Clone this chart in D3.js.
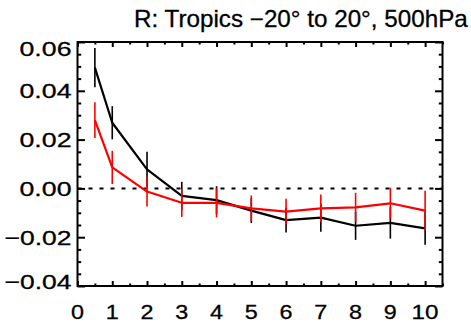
<!DOCTYPE html>
<html>
<head>
<meta charset="utf-8">
<script src="https://cdn.jsdelivr.net/npm/d3@7"></script>
<style>
  html, body { margin: 0; padding: 0; background: #fff; }
  svg { display: block; font-family: "Liberation Sans", Arial, Helvetica, sans-serif; }
  .lbl { fill: #000; stroke: #000; stroke-width: 0.3px; font-family: "Liberation Sans", Arial, sans-serif; }
</style>
</head>
<body>
<svg id="chart" width="471" height="332"></svg>
<script>
// Lead (x) values for both series
const lags = [0.5, 1, 2, 3, 4, 5, 6, 7, 8, 9, 10];

// Black series: mean and error half-width
const blackMean = [0.0495, 0.0269, 0.0078, -0.0031, -0.0048, -0.0091, -0.0130, -0.0120, -0.0153, -0.0141, -0.0164];
const blackErr  = [0.0080, 0.0068, 0.0072, 0.0058, 0.0057, 0.0051, 0.0051, 0.0058, 0.0058, 0.0065, 0.0067];

// Red series: mean and error half-width
const redMean = [0.0280, 0.0086, -0.0013, -0.0059, -0.0059, -0.0082, -0.0095, -0.0082, -0.0078, -0.0061, -0.0091];
const redErr  = [0.0073, 0.0068, 0.0061, 0.0058, 0.0060, 0.0053, 0.0053, 0.0057, 0.0060, 0.0063, 0.0081];

// Axis ticks
const xMajor = [0, 1, 2, 3, 4, 5, 6, 7, 8, 9, 10];
const yMajor = [-0.04, -0.02, 0.00, 0.02, 0.04, 0.06];

const titleText = "R: Tropics \u221220\u00b0 to 20\u00b0, 500hPa";

const svg = d3.select("#chart");
const plotL = 77.5, plotR = 442.5, plotT = 42, plotB = 286;

const x = d3.scaleLinear().domain([0, 10.5]).range([plotL, plotR]);
const y = d3.scaleLinear().domain([-0.04, 0.06]).range([plotB, plotT]);

const xMinor = d3.range(0, 10.51, 0.5).filter(v => Math.abs(v - Math.round(v)) > 1e-6);
const yMinor = d3.range(-0.04, 0.0601, 0.005).filter(v => !yMajor.some(m => Math.abs(m - v) < 1e-6));

const fmtY = v => {
  const s = Math.abs(v).toFixed(2);
  return (v < -1e-9 ? "\u2212" : "") + s;
};

// Squeeze/stretch a text node horizontally to a given width about its anchor
function fitWidth(node, width, tx, ty) {
  const w = node.getComputedTextLength() || width;
  d3.select(node).attr("transform", `translate(${tx},${ty}) scale(${width / w},1)`);
}

// Zero reference line
svg.append("line")
  .attr("x1", x(0)).attr("x2", x(10.5))
  .attr("y1", y(0)).attr("y2", y(0))
  .attr("stroke", "#000").attr("stroke-width", 2)
  .attr("stroke-dasharray", "4,7");

// Series: line, then error bars
function drawSeries(means, errs, color) {
  const pts = lags.map((l, i) => ({ l, m: means[i], e: errs[i] }));
  svg.append("path")
    .datum(pts)
    .attr("fill", "none")
    .attr("stroke", color)
    .attr("stroke-width", 2.2)
    .attr("stroke-linejoin", "round")
    .attr("d", d3.line().x(d => x(d.l)).y(d => y(d.m)));
  svg.selectAll(null)
    .data(pts)
    .enter().append("line")
    .attr("x1", d => x(d.l)).attr("x2", d => x(d.l))
    .attr("y1", d => y(d.m - d.e)).attr("y2", d => y(d.m + d.e))
    .attr("stroke", color).attr("stroke-width", 1.6);
}
drawSeries(blackMean, blackErr, "#000");
drawSeries(redMean, redErr, "#ff0000");

// Axes with inward ticks (labels drawn separately below)
const majX = 5, minX = 2.5, majY = 7.5, minY = 3.7;

function styleAxis(g) {
  g.select(".domain").remove();
  g.selectAll(".tick line").attr("stroke", "#000").attr("stroke-width", 2);
  g.selectAll(".tick text").remove();
}
function ticks(axisGen, vals, len, tx, ty) {
  svg.append("g").attr("transform", `translate(${tx},${ty})`)
    .call(axisGen.tickValues(vals).tickSizeInner(-len).tickSizeOuter(0).tickFormat(""))
    .call(styleAxis);
}
ticks(d3.axisBottom(x), xMajor, majX, 0, plotB);
ticks(d3.axisBottom(x), xMinor, minX, 0, plotB);
ticks(d3.axisTop(x), xMajor, majX, 0, plotT);
ticks(d3.axisTop(x), xMinor, minX, 0, plotT);
ticks(d3.axisLeft(y), yMajor, majY, plotL, 0);
ticks(d3.axisLeft(y), yMinor, minY, plotL, 0);
ticks(d3.axisRight(y), yMajor, majY, plotR, 0);
ticks(d3.axisRight(y), yMinor, minY, plotR, 0);

// Bottom tick labels, centred under the major ticks
svg.append("g").selectAll("text")
  .data(xMajor).enter().append("text")
  .attr("class", "lbl").attr("font-size", 21)
  .attr("text-anchor", "middle")
  .text(d3.format("d"))
  .each(function (d) { fitWidth(this, d >= 10 ? 27 : 13, x(d), 319); });

// Left tick labels, right-aligned against the frame
const yLabelShift = d => Math.abs(d - 0.06) < 1e-9 ? 13.5 : (Math.abs(d + 0.04) < 1e-9 ? 3 : 7.3);
svg.append("g").selectAll("text")
  .data(yMajor).enter().append("text")
  .attr("class", "lbl").attr("font-size", 21)
  .attr("text-anchor", "end")
  .text(fmtY)
  .each(function (d) { fitWidth(this, d < -1e-9 ? 67 : 52, plotL - 6, y(d) + yLabelShift(d)); });

// Frame
svg.append("rect")
  .attr("x", plotL).attr("y", plotT)
  .attr("width", plotR - plotL).attr("height", plotB - plotT)
  .attr("fill", "none").attr("stroke", "#000").attr("stroke-width", 2);

// Title
svg.append("text")
  .attr("class", "lbl")
  .attr("font-size", 23)
  .attr("text-anchor", "start")
  .text(titleText)
  .each(function () { fitWidth(this, 334, 134, 26.5); });
</script>
</body>
</html>
